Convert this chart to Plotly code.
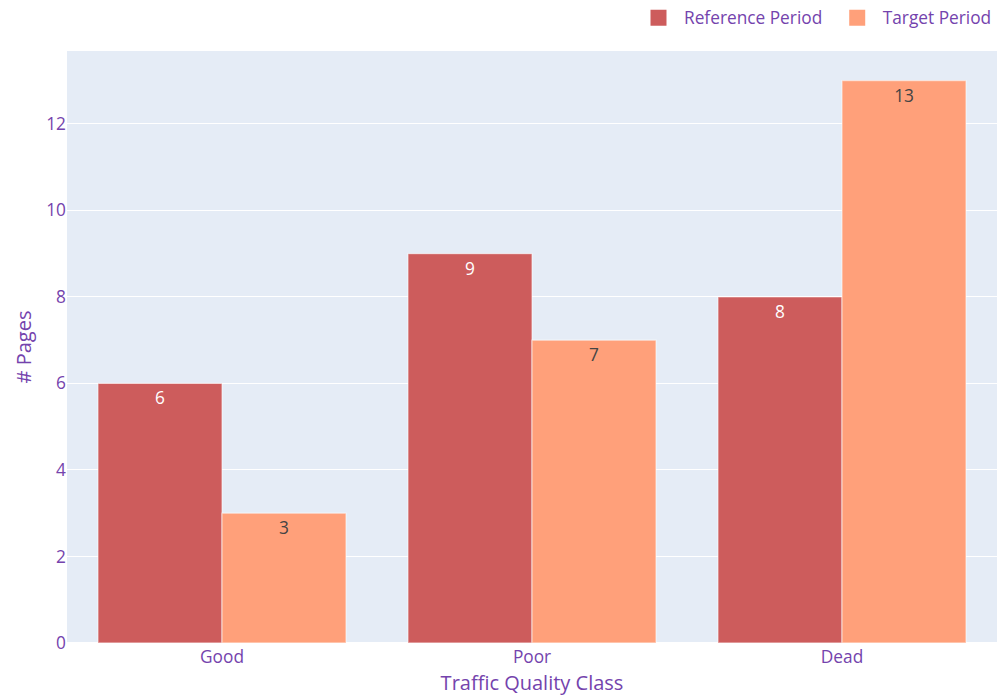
import plotly.graph_objects as go

categories = ["Good", "Poor", "Dead"]
reference_values = [6, 9, 8]
target_values = [3, 7, 13]
series_names = ["Reference Period", "Target Period"]
series_colors = ["indianred", "lightsalmon"]

fig = go.Figure()
for name, vals, col in zip(series_names, [reference_values, target_values], series_colors):
    fig.add_trace(go.Bar(name=name, x=categories, y=vals, text=vals,
                         marker_color=col, showlegend=False, legendgroup=name,
                         marker_line=dict(color="rgba(255,255,255,0.5)", width=1.3)))
# legend-only entries with larger square symbols
legend_labels = [series_names[0] + "\u00a0", series_names[1]]
for name, label, col in zip(series_names, legend_labels, series_colors):
    fig.add_trace(go.Scatter(name=label, x=[None], y=[None], mode="markers",
                             legendgroup=name,
                             marker=dict(symbol="square", size=16, color=col,
                                         line=dict(width=0))))

fig.update_layout(
    width=997, height=696,
    template="plotly",
    barmode="group",
    font=dict(family="Open Sans", size=17.3, color="#7443ad"),
    margin=dict(l=67, r=0, t=50, b=53),
    legend=dict(orientation="h", x=1, xanchor="right", y=1.026, yanchor="bottom",
                itemwidth=41, font=dict(size=17.3)),
    xaxis=dict(title=dict(text="Traffic Quality Class", font=dict(size=20), standoff=9),
               ticklabelstandoff=2),
    yaxis=dict(title=dict(text="# Pages", font=dict(size=20), standoff=9)),
)
fig.update_traces(selector=dict(type="bar"), textposition="auto", textfont=dict(size=17.3))
fig.write_html("out.html")
